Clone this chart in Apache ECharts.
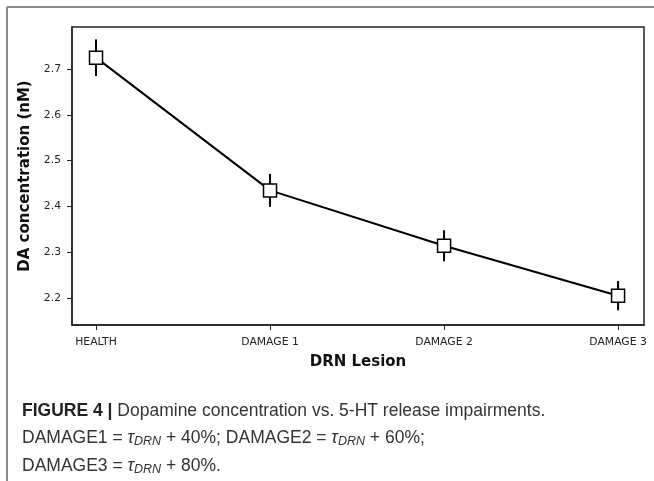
<!DOCTYPE html>
<html><head><meta charset="utf-8">
<script src="https://cdn.jsdelivr.net/npm/echarts@6/dist/echarts.min.js"></script>
<style>html,body{margin:0;padding:0;background:#fff}#c{width:654px;height:481px}</style>
</head><body><div id="c"></div>
<script>
const categories = ['HEALTH', 'DAMAGE 1', 'DAMAGE 2', 'DAMAGE 3'];
const daValues = [2.725, 2.435, 2.314, 2.205];
const daErrors = [0.040, 0.036, 0.034, 0.032];
const yTicks = [2.2, 2.3, 2.4, 2.5, 2.6, 2.7];

const pts = categories.map((c, i) => [i, daValues[i]]);
const errs = categories.map((c, i) => [i, daValues[i] - daErrors[i], daValues[i] + daErrors[i]]);

const chart = echarts.init(document.getElementById('c'), null, {renderer: 'canvas'});
const capFont = 'Liberation Sans';
const FS = 17.5;
const rich = {
  b: {fontFamily: capFont, fontWeight: 'bold', fontSize: FS, fill: '#222', color: '#222'},
  n: {fontFamily: capFont, fontSize: FS, fill: '#333', color: '#333'},
  i: {fontFamily: capFont, fontStyle: 'italic', fontSize: FS, fill: '#333', color: '#333'},
  s: {fontFamily: capFont, fontStyle: 'italic', fontSize: 12.5, fill: '#333', color: '#333', padding: [8, 0, 0, 0]}
};
chart.setOption({
  animation: false,
  grid: {left: 72, right: 10, top: 27, bottom: 156, show: true, borderColor: '#222', borderWidth: 1.5},
  xAxis: {
    type: 'value', min: -0.138, max: 3.149,
    name: 'DRN Lesion', nameLocation: 'middle', nameGap: 30,
    nameTextStyle: {fontFamily: 'DejaVu Sans', fontWeight: 'bold', fontSize: 15, color: '#111'},
    axisLine: {show: true, onZero: false, lineStyle: {color: '#222', width: 1.5}},
    axisTick: {show: true, length: 5, customValues: [0, 1, 2, 3], lineStyle: {color: '#222'}},
    axisLabel: {customValues: [0, 1, 2, 3], formatter: v => categories[Math.round(v)], fontFamily: 'DejaVu Sans', fontSize: 10.8, color: '#222', margin: 12},
    splitLine: {show: false}
  },
  yAxis: {
    type: 'value', min: 2.141, max: 2.792,
    name: 'DA concentration (nM)', nameLocation: 'middle', nameGap: 34,
    nameTextStyle: {fontFamily: 'DejaVu Sans', fontWeight: 'bold', fontSize: 15, color: '#111'},
    axisLine: {show: true, onZero: false, lineStyle: {color: '#222', width: 1.5}},
    axisTick: {show: true, length: 5, customValues: yTicks, lineStyle: {color: '#222'}},
    axisLabel: {customValues: yTicks, formatter: v => v.toFixed(1), fontFamily: 'DejaVu Sans', fontSize: 10.8, color: '#222', margin: 11},
    splitLine: {show: false}
  },
  series: [
    {
      type: 'custom', data: errs, z: 2,
      renderItem: (params, api) => {
        const a = api.coord([api.value(0), api.value(1)]);
        const b = api.coord([api.value(0), api.value(2)]);
        return {type: 'line', shape: {x1: a[0], y1: a[1], x2: b[0], y2: b[1]}, style: {stroke: '#000', lineWidth: 2}};
      }
    },
    {
      type: 'line', data: pts, z: 3,
      lineStyle: {color: '#000', width: 2},
      symbol: 'rect', symbolSize: 13, showAllSymbol: true,
      itemStyle: {color: '#fff', borderColor: '#000', borderWidth: 1.5}
    }
  ],
  graphic: [
    {type: 'line', shape: {x1: 7, y1: 7, x2: 654, y2: 7}, style: {stroke: '#8a8a8a', lineWidth: 2}},
    {type: 'line', shape: {x1: 7, y1: 7, x2: 7, y2: 481}, style: {stroke: '#8a8a8a', lineWidth: 2}},
    {type: 'text', left: 22, top: 402, style: {text: '{b|FIGURE 4 |}{n| Dopamine concentration vs. 5-HT release impairments.}', rich: rich}},
    {type: 'text', left: 22, top: 429, style: {text: '{n|DAMAGE1 = }{i|τ}{s|DRN}{n| + 40%; DAMAGE2 = }{i|τ}{s|DRN}{n| + 60%;}', rich: rich}},
    {type: 'text', left: 22, top: 457, style: {text: '{n|DAMAGE3 = }{i|τ}{s|DRN}{n| + 80%.}', rich: rich}}
  ]
});
</script></body></html>
